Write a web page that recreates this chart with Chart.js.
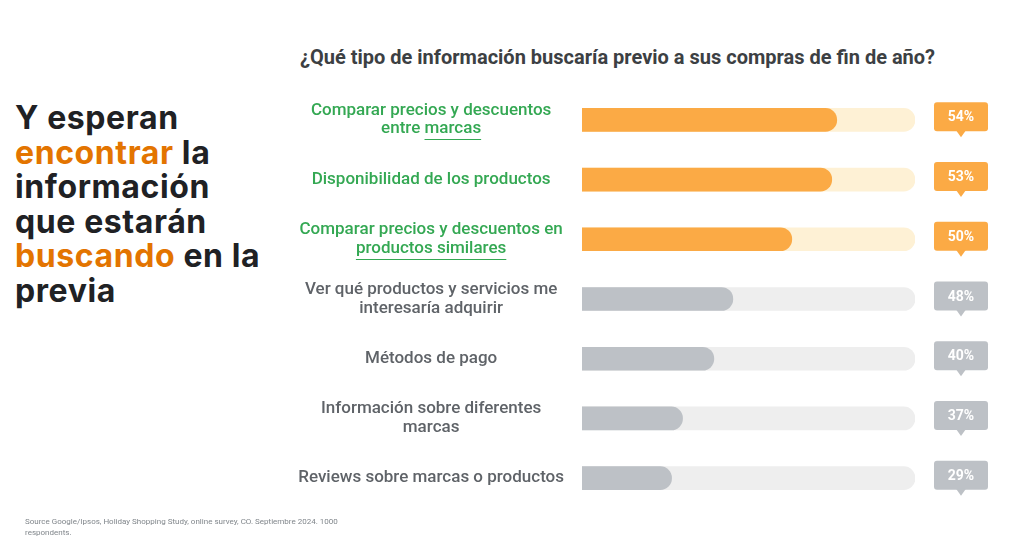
<!DOCTYPE html>
<html lang="es">
<head>
<meta charset="utf-8">
<title>Información buscada antes de las compras de fin de año</title>
<script src="https://cdn.jsdelivr.net/npm/chart.js@4.4.1/dist/chart.umd.min.js"></script>
<style>
  html, body { margin: 0; padding: 0; background: #ffffff; }
  body { width: 1024px; height: 539px; position: relative; overflow: hidden; font-family: Roboto, "Noto Sans", sans-serif; }
  #headline {
    position: absolute; left: 15px; top: 101px; width: 270px; white-space: nowrap;
    font-family: Inter, "Noto Sans", sans-serif; font-weight: 700; font-size: 32px; line-height: 34.6px;
    color: #202124; letter-spacing: 0.6px;
  }
  #headline .hl { color: #e37400; }
  #question {
    position: absolute; left: 300px; top: 45px; white-space: nowrap;
    font-weight: 700; font-size: 20px; color: #3c4043;
  }
  #source {
    position: absolute; left: 25px; top: 516px; width: 330px;
    font-size: 8px; line-height: 11px; color: #80868b;
  }
  #chart-wrap { position: absolute; left: 280px; top: 80px; width: 744px; height: 440px; }
</style>
</head>
<body>
<div id="headline">Y esperan<br><span class="hl">encontrar</span> la<br>información<br>que estarán<br><span class="hl">buscando</span> en la<br>previa</div>
<div id="question">¿Qué tipo de información buscaría previo a sus compras de fin de año?</div>
<div id="chart-wrap"><canvas id="infoChart"></canvas></div>
<div id="source">Source Google/Ipsos, Holiday Shopping Study, online survey, CO. Septiembre 2024. 1000 respondents.</div>

<script>
// Categories (multi-line as shown in the slide)
const categories = [
  ['Comparar precios y descuentos', 'entre marcas'],
  ['Disponibilidad de los productos'],
  ['Comparar precios y descuentos en', 'productos similares'],
  ['Ver qué productos y servicios me', 'interesaría adquirir'],
  ['Métodos de pago'],
  ['Información sobre diferentes', 'marcas'],
  ['Reviews sobre marcas o productos']
];

// Percentages printed in the callouts
const shares = [54, 53, 50, 48, 40, 37, 29];

// Filled length of each bar, as % of the track
const barLengths = [76.5, 75, 63, 45.3, 39.6, 30.2, 26.9];

// Full track behind each bar
const trackMax = 100;

// Words underlined inside the labels (row index -> text)
const underlinedWords = { 0: 'marcas', 2: 'productos similares' };

const HIGHLIGHTED = 3; // first rows drawn in orange / green

const ORANGE = '#fbaa45';
const ORANGE_TRACK = '#fef1d5';
const GRAY = '#bdc1c6';
const GRAY_TRACK = '#eeeeee';
const GREEN = '#34a853';
const LABEL_GRAY = '#5f6368';

const isHot = (i) => i < HIGHLIGHTED;

// Speech-bubble callouts with the percentage
const calloutPlugin = {
  id: 'callouts',
  afterDatasetsDraw(chart) {
    const { ctx, chartArea } = chart;
    const meta = chart.getDatasetMeta(0);
    const w = 54;
    const h = 29;
    meta.data.forEach((bar, i) => {
      const left = chartArea.right + 19;
      const top = bar.y - 17.5;
      const cx = left + w / 2;
      ctx.save();
      ctx.fillStyle = isHot(i) ? ORANGE : GRAY;
      ctx.beginPath();
      ctx.roundRect(left, top, w, h, 3);
      ctx.fill();
      ctx.beginPath();
      ctx.moveTo(cx - 5, top + h - 1);
      ctx.lineTo(cx + 5, top + h - 1);
      ctx.lineTo(cx, top + h + 6);
      ctx.closePath();
      ctx.fill();
      ctx.fillStyle = '#ffffff';
      ctx.font = '700 14px Roboto, sans-serif';
      ctx.textAlign = 'center';
      ctx.textBaseline = 'middle';
      ctx.fillText(shares[i] + '%', cx, top + h / 2 + 1);
      ctx.restore();
    });
  }
};

// Underline for the highlighted words in the category labels
const underlinePlugin = {
  id: 'underlines',
  afterDraw(chart) {
    const scale = chart.scales.y;
    const items = scale.getLabelItems();
    const { ctx } = chart;
    items.forEach((item, i) => {
      const word = underlinedWords[i];
      if (!word) return;
      const lines = Array.isArray(item.label) ? item.label : [item.label];
      const lineHeight = item.font.lineHeight;
      const [x, y] = item.options.translation;
      ctx.save();
      ctx.font = item.font.string;
      lines.forEach((line, k) => {
        const pos = line.indexOf(word);
        if (pos < 0) return;
        const full = ctx.measureText(line).width;
        const pre = ctx.measureText(line.slice(0, pos)).width;
        const ww = ctx.measureText(word).width;
        const startX = x - full / 2 + pre;
        const ly = Math.round(y + item.textOffset + k * lineHeight + 10) + 0.5;
        ctx.strokeStyle = GREEN;
        ctx.lineWidth = 1;
        ctx.beginPath();
        ctx.moveTo(startX, ly);
        ctx.lineTo(startX + ww, ly);
        ctx.stroke();
      });
      ctx.restore();
    });
  }
};

const ctx = document.getElementById('infoChart').getContext('2d');

new Chart(ctx, {
  type: 'bar',
  data: {
    labels: categories,
    datasets: [
      {
        data: barLengths,
        backgroundColor: (c) => isHot(c.dataIndex) ? ORANGE : GRAY,
        borderRadius: 12,
        borderSkipped: 'start',
        barThickness: 23,
        grouped: false,
        order: 0
      },
      {
        data: categories.map(() => trackMax),
        backgroundColor: (c) => isHot(c.dataIndex) ? ORANGE_TRACK : GRAY_TRACK,
        borderRadius: 12,
        borderSkipped: 'start',
        barThickness: 23,
        grouped: false,
        order: 1
      }
    ]
  },
  options: {
    indexAxis: 'y',
    responsive: true,
    maintainAspectRatio: false,
    animation: false,
    layout: { padding: { left: 0, right: 109, top: 10, bottom: 12 } },
    scales: {
      x: { min: 0, max: trackMax, display: false },
      y: {
        grid: { display: false, drawTicks: false },
        border: { display: false },
        ticks: {
          crossAlign: 'center',
          padding: 18,
          color: (c) => isHot(c.index) ? GREEN : LABEL_GRAY,
          font: { family: 'Roboto', weight: '500', size: 17, lineHeight: 1.1 }
        },
        afterFit(scale) {
          scale.width = 302;
          // labels stay inside their rows, no extra room above/below
          scale.paddingTop = 0;
          scale.paddingBottom = 0;
        }
      }
    },
    plugins: {
      legend: { display: false },
      tooltip: { enabled: false }
    }
  },
  plugins: [calloutPlugin, underlinePlugin]
});
</script>
</body>
</html>
